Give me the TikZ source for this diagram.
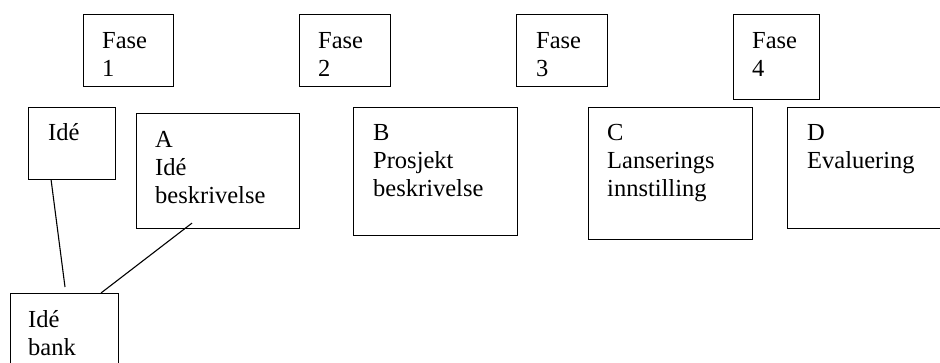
\documentclass[tikz,border=0pt]{standalone}
\usepackage{fontspec}
\setmainfont{Liberation Serif}
\usetikzlibrary{calc}
\newcommand\boxtext[1]{\begin{tabular}[t]{@{}l@{}}#1\end{tabular}}
\tikzset{
  frame/.style={draw, line width=1.1pt, inner sep=0pt, anchor=north west},
  txt/.style={inner sep=0pt, anchor=base west, font=\fontsize{24.5}{28.2}\selectfont},
  link/.style={line width=1.1pt}
}
\begin{document}
\begin{tikzpicture}[x=1pt,y=-1pt]
\useasboundingbox (0,0) rectangle (940,362);
\clip (0,0) rectangle (940,362);
% phase boxes
\node[frame, minimum width=90pt, minimum height=72pt] (f1) at (83,14) {};
\node[frame, minimum width=91pt, minimum height=72pt] (f2) at (299,14) {};
\node[frame, minimum width=91pt, minimum height=72pt] (f3) at (516,14) {};
\node[frame, minimum width=86pt, minimum height=85pt] (f4) at (733,14) {};
% content boxes
\node[frame, minimum width=87pt, minimum height=72pt] (ide) at (28,107) {};
\node[frame, minimum width=163pt, minimum height=115pt] (A) at (136,113) {};
\node[frame, minimum width=108pt, minimum height=100pt] (bank) at (10,293) {};
\node[frame, minimum width=164pt, minimum height=128pt] (B) at (353,107) {};
\node[frame, minimum width=164pt, minimum height=132pt] (C) at (588,107) {};
\node[frame, minimum width=180pt, minimum height=121pt] (D) at (787,107) {};
% texts
\node[txt] (t1) at ($(f1.north west)+(19,34)$) {\boxtext{Fase\\1}};
\node[txt] (t2) at ($(f2.north west)+(19,34)$) {\boxtext{Fase\\2}};
\node[txt] (t3) at ($(f3.north west)+(20,34)$) {\boxtext{Fase\\3}};
\node[txt] (t4) at ($(f4.north west)+(19,34)$) {\boxtext{Fase\\4}};
\node[txt] (tide) at ($(ide.north west)+(20,33)$) {\boxtext{Idé}};
\node[txt] (tA) at ($(A.north west)+(19,34)$) {\boxtext{A\\Idé\\beskrivelse}};
\node[txt] (tbank) at ($(bank.north west)+(18,34)$) {\boxtext{Idé\\bank}};
\node[txt] (tB) at ($(B.north west)+(20,33)$) {\boxtext{B\\Prosjekt\\beskrivelse}};
\node[txt] (tC) at ($(C.north west)+(19,33)$) {\boxtext{C\\Lanserings\\innstilling}};
\node[txt] (tD) at ($(D.north west)+(20,33)$) {\boxtext{D\\Evaluering}};
% connectors
\coordinate (ideEnd) at ($(bank.north west)+(55,-6)$);
\coordinate (aStart) at ($(A.south west)+(56,-6)$);
\draw[link] ($(ide.south west)+(23,-1)$) -- (ideEnd);
\draw[link] (aStart) -- ($(bank.north west)+(91,0)$);
\end{tikzpicture}
\end{document}
